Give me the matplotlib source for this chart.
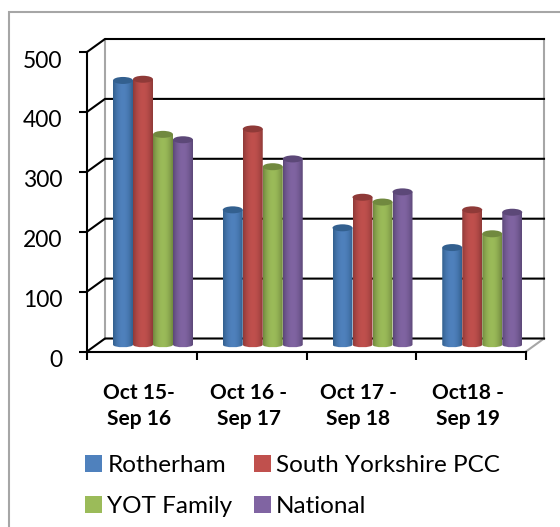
import matplotlib
matplotlib.use("Agg")
import matplotlib.pyplot as plt
import matplotlib.transforms as mtrans
from matplotlib.patches import Ellipse, PathPatch, Rectangle
from matplotlib.path import Path
import numpy as np

periodes = ["Oct 15-\nSep 16", "Oct 16 -\nSep 17", "Oct 17 -\nSep 18", "Oct18 -\nSep 19"]
series = ["Rotherham", "South Yorkshire PCC", "YOT Family", "National"]
rotherham = [441, 225, 195, 162]
south_yorks = [443, 360, 246, 225]
yot_family = [351, 297, 238, 185]
national = [342, 310, 255, 221]
yticks = [0, 100, 200, 300, 400, 500]

valeurs = [rotherham, south_yorks, yot_family, national]
couleurs = ["#4F81BD", "#C0504D", "#9BBB59", "#8064A2"]
sombres = ["#33608F", "#8F3A38", "#71893F", "#5C4878"]

W, H = 560, 527
fig = plt.figure(figsize=(W / 100, H / 100), dpi=100)
plt.rcParams["font.family"] = ["Lato", "DejaVu Sans"]

# axes = plan avant du graphique 3D (pixels de l'image)
x0, x1, y0, y1 = 87, 526, 351.5, 52
ax = fig.add_axes([x0 / W, 1 - y0 / H, (x1 - x0) / W, (y0 - y1) / H])
ax.patch.set_alpha(0)
ax.set_xlim(0, 4)
ax.set_ylim(0, 500)

px_x = 4 / (x1 - x0)
px_y = 500 / (y0 - y1)
dx = 18 * px_x  # profondeur
dy = 13 * px_y

# cadre extérieur (coupé à droite et en bas)
fig.add_artist(Rectangle((8.5 / W, -0.1), 1.1, 1.1 - 11.5 / H, transform=fig.transFigure,
                         fill=False, ec="#A6A6A6", lw=1.5))

# murs et grille
ax.plot([dx, dx], [dy, 500 + dy], color="#A6A6A6", lw=1.5, clip_on=False, zorder=1)
ax.plot([4 + dx, 4 + dx], [dy, 500 + dy], color="#A6A6A6", lw=1.5, clip_on=False, zorder=1)
ax.plot([4, 4 + dx], [0, dy], color="#A6A6A6", lw=1.5, clip_on=False, zorder=1)
for v in yticks:
    ax.plot([0, dx, 4 + dx], [v, v + dy, v + dy], color="black", lw=1.5, clip_on=False, zorder=2)

# barres cylindriques
larg = 20 * px_x
ry = 3.5 * px_y
base = 11.5
centre0 = 66 * px_x
ecart = 109.75 * px_x
for s, vals in enumerate(valeurs):
    rgb_c = np.array(matplotlib.colors.to_rgb(couleurs[s]))
    rgb_s = np.array(matplotlib.colors.to_rgb(sombres[s]))
    t = np.abs(np.linspace(-1, 1, 40)) ** 2
    degrade = (rgb_c[None, :] * (1 - t[:, None]) + rgb_s[None, :] * t[:, None])[None, :, :]
    for i, v in enumerate(vals):
        xc = centre0 + i * ecart + (s - 1.5) * larg
        g, d = xc - larg / 2, xc + larg / 2
        haut = v + base
        corps = Path([(g, haut), (g, base), (g, base - ry), (d, base - ry), (d, base), (d, haut), (g, haut)],
                     [Path.MOVETO, Path.LINETO, Path.CURVE4, Path.CURVE4, Path.CURVE4, Path.LINETO, Path.CLOSEPOLY])
        im = ax.imshow(degrade, extent=(g, d, base - 2 * ry, haut), aspect="auto", zorder=3 + s * 0.01,
                       interpolation="bilinear")
        im.set_clip_path(PathPatch(corps, transform=ax.transData))
        ax.add_patch(Ellipse((xc, haut), larg, 2 * ry, fc=sombres[s], ec="none", zorder=3.5, clip_on=False))

ax.set_xlim(0, 4)
ax.set_ylim(0, 500)

# axes
for cote in ["top", "right"]:
    ax.spines[cote].set_visible(False)
for cote in ["left", "bottom"]:
    ax.spines[cote].set_linewidth(1.5)
ax.set_yticks(yticks)
ax.set_xticks(range(5))
ax.set_xticklabels([])
ax.tick_params(length=5.8, width=1.5, labelsize=16.5)
ax.tick_params(axis="y", pad=12)
for lab in ax.get_yticklabels():
    lab.set_transform(lab.get_transform() + mtrans.ScaledTranslation(0, -7 / 100, fig.dpi_scale_trans))

ax.set_xticks(np.arange(4) + 0.5, periodes, minor=True)
ax.tick_params(axis="x", which="minor", length=0, pad=23, labelsize=15)
for lab in ax.get_xticklabels(minor=True):
    lab.set_fontweight("bold")
    lab.set_linespacing(1.35)
    lab.set_transform(lab.get_transform() + mtrans.ScaledTranslation(-3 / 100, 0, fig.dpi_scale_trans))

# légende
poignees = [Rectangle((0, 0), 1, 1, fc=c, ec="none") for c in couleurs]
ordre = [0, 2, 1, 3]
ax.legend([poignees[k] for k in ordre], [series[k] for k in ordre], ncol=2, frameon=False, fontsize=17.5,
          loc="upper left", bbox_to_anchor=(85 / W, 1 - 455 / H), bbox_transform=fig.transFigure,
          handlelength=0.7, handleheight=0.7, handletextpad=0.22, columnspacing=0.88,
          labelspacing=0.83, borderpad=0, borderaxespad=0)

fig.savefig("out.png", dpi=100)
